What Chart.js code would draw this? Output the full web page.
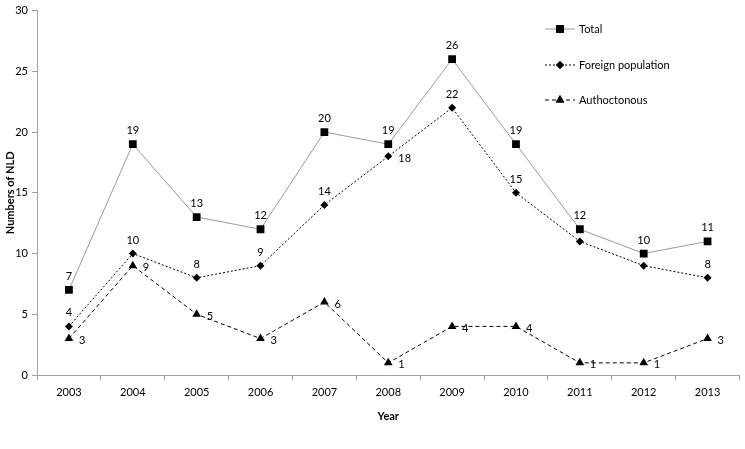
<!DOCTYPE html>
<html>
<head>
<meta charset="utf-8">
<script src="https://cdn.jsdelivr.net/npm/chart.js@4.4.1/dist/chart.umd.min.js"></script>
<style>
  html, body { margin: 0; padding: 0; background: #fff; }
  #wrap { width: 745px; height: 449px; }
</style>
</head>
<body>
<div id="wrap"><canvas id="chart" width="745" height="449"></canvas></div>
<script>
const years = ["2003", "2004", "2005", "2006", "2007", "2008", "2009", "2010", "2011", "2012", "2013"];
const totalCases = [7, 19, 13, 12, 20, 19, 26, 19, 12, 10, 11];
const foreignCases = [4, 10, 8, 9, 14, 18, 22, 15, 11, 9, 8];
const autoCases = [3, 9, 5, 3, 6, 1, 4, 4, 1, 1, 3];
const yTicks = [0, 5, 10, 15, 20, 25, 30];

const FONT = "Lato, 'Open Sans', sans-serif";

// where each value label goes: "up" above the point, "right" beside it
const foreignLabelPos = ["up", "up", "up", "up", "up", "right", "up", "up", "none", "none", "up"];

const valueLabels = {
    id: "valueLabels",
    afterDatasetsDraw(chart) {
        const ctx = chart.ctx;
        ctx.save();
        ctx.font = "11px " + FONT;
        ctx.fillStyle = "#000";
        chart.data.datasets.forEach((ds, i) => {
            const meta = chart.getDatasetMeta(i);
            meta.data.forEach((pt, j) => {
                let pos = ds.labelPos ? ds.labelPos[j] : "up";
                if (pos === "none") return;
                const txt = String(ds.data[j]);
                if (pos === "up") {
                    ctx.textAlign = "center";
                    ctx.textBaseline = "bottom";
                    ctx.fillText(txt, pt.x, pt.y - 8);
                } else {
                    ctx.textAlign = "left";
                    ctx.textBaseline = "middle";
                    ctx.fillText(txt, pt.x + 10, pt.y + 2);
                }
            });
        });
        ctx.restore();
    }
};

const customLegend = {
    id: "customLegend",
    afterDraw(chart) {
        const ctx = chart.ctx;
        const x0 = 545, x1 = 575;
        const rows = [29, 65, 100];
        ctx.save();
        chart.data.datasets.forEach((ds, i) => {
            const y = rows[i];
            ctx.strokeStyle = ds.borderColor;
            ctx.lineWidth = 1;
            ctx.setLineDash(ds.borderDash || []);
            ctx.beginPath();
            ctx.moveTo(x0, y);
            ctx.lineTo(x1, y);
            ctx.stroke();
            ctx.setLineDash([]);
            Chart.helpers.drawPoint(ctx, {
                pointStyle: ds.pointStyle,
                radius: ds.pointRadius,
                rotation: 0,
                borderWidth: 0
            }, (x0 + x1) / 2, y);
            ctx.fillStyle = "#000";
            ctx.fill();
            ctx.font = "11px " + FONT;
            ctx.textAlign = "left";
            ctx.textBaseline = "middle";
            ctx.fillText(ds.label, x1 + 4, y);
        });
        ctx.restore();
    }
};

new Chart(document.getElementById("chart"), {
    type: "line",
    data: {
        labels: years,
        datasets: [
            {
                label: "Total",
                data: totalCases,
                borderColor: "#9a9a9a",
                borderWidth: 1,
                pointStyle: "rect",
                pointRadius: 5.5,
                pointBackgroundColor: "#000",
                pointBorderColor: "#000",
                pointBorderWidth: 0,
                labelPos: totalCases.map(() => "up")
            },
            {
                label: "Foreign population",
                data: foreignCases,
                borderColor: "#000",
                borderWidth: 1,
                borderDash: [2, 2],
                pointStyle: "rectRot",
                pointRadius: 4,
                pointBackgroundColor: "#000",
                pointBorderColor: "#000",
                pointBorderWidth: 0,
                labelPos: foreignLabelPos
            },
            {
                label: "Authoctonous",
                data: autoCases,
                borderColor: "#000",
                borderWidth: 1,
                borderDash: [4, 3],
                pointStyle: "triangle",
                pointRadius: 5,
                pointBackgroundColor: "#000",
                pointBorderColor: "#000",
                pointBorderWidth: 0,
                labelPos: autoCases.map(() => "right")
            }
        ]
    },
    options: {
        responsive: false,
        animation: false,
        events: [],
        layout: { padding: { top: 8, right: 4, left: 0, bottom: 26 } },
        plugins: {
            legend: { display: false },
            tooltip: { enabled: false }
        },
        scales: {
            x: {
                offset: true,
                grid: {
                    offset: true,
                    drawOnChartArea: false,
                    drawTicks: true,
                    tickLength: 5,
                    color: "#a0a0a0"
                },
                border: { color: "#a0a0a0" },
                ticks: {
                    color: "#000",
                    font: { family: FONT, size: 11 },
                    padding: 6,
                    maxRotation: 0
                },
                title: {
                    display: true,
                    text: "Year",
                    color: "#000",
                    font: { family: FONT, size: 11, weight: "bold" },
                    padding: { top: 4, bottom: 0 }
                },
                afterFit(scale) { scale.height = 48; }
            },
            y: {
                min: 0,
                max: 30,
                afterBuildTicks(scale) { scale.ticks = yTicks.map(v => ({ value: v })); },
                grid: {
                    drawOnChartArea: false,
                    drawTicks: true,
                    tickLength: 5,
                    color: "#a0a0a0"
                },
                border: { color: "#a0a0a0" },
                ticks: {
                    color: "#000",
                    font: { family: FONT, size: 11 },
                    padding: 4
                },
                title: {
                    display: true,
                    text: "Numbers of NLD",
                    color: "#000",
                    font: { family: FONT, size: 11, weight: "bold" },
                    padding: { bottom: 0, top: 4 }
                },
                afterFit(scale) { scale.width = 37; }
            }
        }
    },
    plugins: [valueLabels, customLegend]
});
</script>
</body>
</html>
